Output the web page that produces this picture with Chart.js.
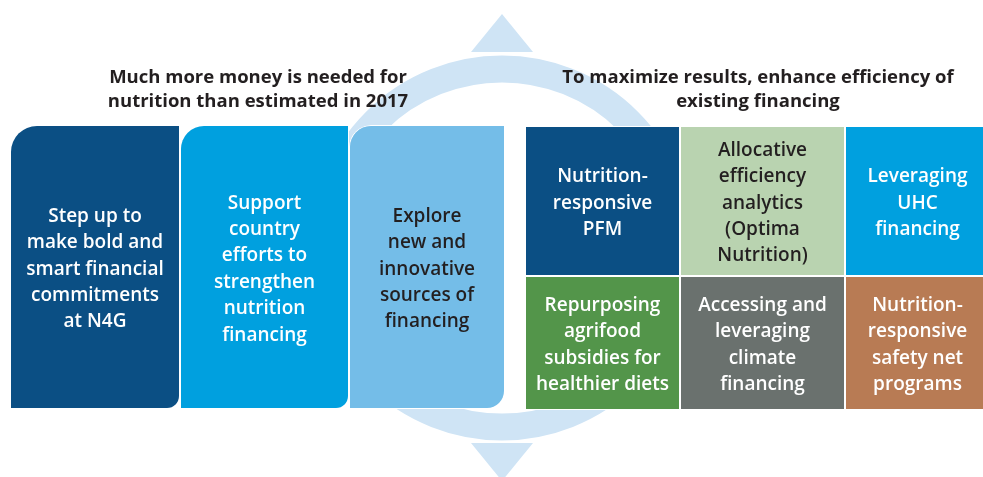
<!DOCTYPE html>
<html>
<head>
<meta charset="utf-8">
<title>Nutrition financing</title>
<script src="https://cdn.jsdelivr.net/npm/chart.js@4.4.1/dist/chart.umd.min.js"></script>
<style>
    html, body { margin: 0; padding: 0; background: #ffffff; }
    #wrap { width: 983px; height: 477px; }
</style>
</head>
<body>
<div id="wrap"><canvas id="diagram" width="983" height="477"></canvas></div>
<script>
var headingLeft = ['Much more money is needed for', 'nutrition than estimated in 2017'];
var headingRight = ['To maximize results, enhance efficiency of', 'existing financing'];

var leftBoxes = [
    ['Step up to', 'make bold and', 'smart financial', 'commitments', 'at N4G'],
    ['Support', 'country', 'efforts to', 'strengthen', 'nutrition', 'financing'],
    ['Explore', 'new and', 'innovative', 'sources of', 'financing']
];
var topCells = [
    ['Nutrition-', 'responsive', 'PFM'],
    ['Allocative', 'efficiency', 'analytics', '(Optima', 'Nutrition)'],
    ['Leveraging', 'UHC', 'financing']
];
var bottomCells = [
    ['Repurposing', 'agrifood', 'subsidies for', 'healthier diets'],
    ['Accessing and', 'leveraging', 'climate', 'financing'],
    ['Nutrition-', 'responsive', 'safety net', 'programs']
];

// layout, in chart units (1 unit = 1 px)
var leftCols = [[10, 180], [180, 349], [349, 505]];
var rightCols = [[525, 680], [680, 845], [845, 990]];
var rowLeft = {center: 267, size: 284};
var rowTop = {center: 201, size: 150};
var rowBottom = {center: 343, size: 134};
var ring = {x: 502, y: 248, radius: 179, width: 27};
var arrows = [{x: 502, y: 33}, {x: 502, y: 462}];
var headingPos = [{x: 258, y: 83}, {x: 758, y: 83}];

// styles
var dark = '#231f20';
var ringColor = '#cfe4f5';
var leftColors = ['#0b4f84', '#00a0df', '#74bde8'];
var topColors = ['#0b4f84', '#b9d3b0', '#00a0df'];
var bottomColors = ['#53954a', '#6a716e', '#b87b54'];
var leftText = ['#ffffff', '#ffffff', dark];
var topText = ['#ffffff', dark, '#ffffff'];
var bottomText = ['#ffffff', '#ffffff', '#ffffff'];
var leftRadius = [
    {topLeft: 27, bottomRight: 13},
    {topLeft: 24, bottomRight: 13},
    {topLeft: 22, bottomRight: 18}
];

function triangleImage(w, h, color) {
    var c = document.createElement('canvas');
    c.width = w;
    c.height = h;
    var g = c.getContext('2d');
    g.fillStyle = color;
    g.beginPath();
    g.moveTo(0, h);
    g.lineTo(w / 2, 0);
    g.lineTo(w, h);
    g.closePath();
    g.fill();
    return c;
}

function boxDataset(cols, row, axisId, labels, colors, textColors, radius) {
    return {
        type: 'bar',
        indexAxis: 'y',
        yAxisID: axisId,
        data: cols.map(function (c) { return {x: c, y: row.center}; }),
        boxLabels: labels,
        textColors: textColors,
        backgroundColor: colors,
        borderColor: '#ffffff',
        borderWidth: 1,
        borderSkipped: false,
        borderRadius: function (ctx) { return radius ? radius[ctx.dataIndex] : 0; },
        inflateAmount: 0,
        grouped: false,
        barThickness: row.size,
        maxBarThickness: row.size,
        order: 0
    };
}

var labelPlugin = {
    id: 'boxLabels',
    afterDatasetsDraw: function (chart) {
        var ctx = chart.ctx;
        var lh = 26.4;
        ctx.save();
        ctx.textAlign = 'center';
        ctx.textBaseline = 'alphabetic';
        ctx.font = '600 19px "Open Sans"';
        chart.data.datasets.forEach(function (ds, i) {
            if (!ds.boxLabels) return;
            chart.getDatasetMeta(i).data.forEach(function (bar, j) {
                var p = bar.getProps(['x', 'base', 'y'], true);
                var cx = (p.x + p.base) / 2;
                var lines = ds.boxLabels[j];
                ctx.fillStyle = ds.textColors[j];
                lines.forEach(function (line, k) {
                    ctx.fillText(line, cx, p.y + (k - (lines.length - 1) / 2) * lh + 7.5);
                });
            });
        });

        var xs = chart.scales.x, ys = chart.scales.yLeft;
        ctx.font = '700 18.5px "Open Sans"';
        ctx.fillStyle = dark;
        [headingLeft, headingRight].forEach(function (head, i) {
            head.forEach(function (line, k) {
                ctx.fillText(line, xs.getPixelForValue(headingPos[i].x), ys.getPixelForValue(headingPos[i].y + k * 24));
            });
        });
        ctx.restore();
    }
};

// the bar defaults would give these hidden axes an offset, so switch it off
function hiddenY() {
    return {type: 'linear', axis: 'y', position: 'left', min: 0, max: 477, reverse: true, offset: false,
        display: false, grid: {offset: false}, ticks: {stepSize: 477}};
}

var chart = new Chart(document.getElementById('diagram'), {
    type: 'bar',
    data: {
        datasets: [
            boxDataset(leftCols, rowLeft, 'yLeft', leftBoxes, leftColors, leftText, leftRadius),
            boxDataset(rightCols, rowTop, 'yTop', topCells, topColors, topText, null),
            boxDataset(rightCols, rowBottom, 'yBottom', bottomCells, bottomColors, bottomText, null),
            {
                type: 'scatter',
                yAxisID: 'yLeft',
                data: [{x: ring.x, y: ring.y}],
                pointRadius: ring.radius,
                pointBorderWidth: ring.width,
                pointBorderColor: ringColor,
                pointBackgroundColor: 'rgba(0,0,0,0)',
                clip: false,
                order: 2
            },
            {
                type: 'scatter',
                yAxisID: 'yLeft',
                data: arrows,
                pointStyle: triangleImage(62, 38, ringColor),
                pointRotation: [0, 180],
                clip: false,
                order: 1
            }
        ]
    },
    options: {
        responsive: false,
        animation: false,
        events: [],
        layout: {padding: 0, autoPadding: false},
        plugins: {
            legend: {display: false},
            tooltip: {enabled: false}
        },
        scales: {
            x: {type: 'linear', axis: 'x', position: 'bottom', min: 0, max: 983, offset: false,
                display: false, grid: {offset: false}, ticks: {stepSize: 983}},
            yLeft: hiddenY(),
            yTop: hiddenY(),
            yBottom: hiddenY()
        }
    },
    plugins: [labelPlugin]
});
</script>
</body>
</html>
